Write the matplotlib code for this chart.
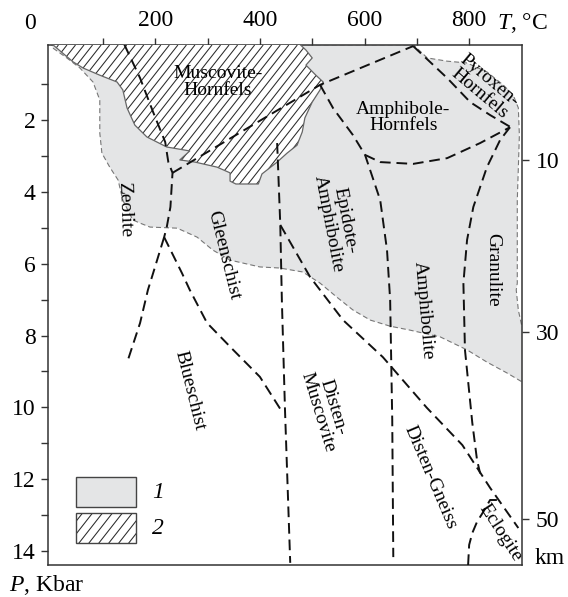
import matplotlib
matplotlib.use("Agg")
import matplotlib.pyplot as plt
import numpy as np
from matplotlib.collections import LineCollection
from matplotlib.patches import Polygon, Rectangle

plt.rcParams["font.family"] = ["Liberation Serif", "DejaVu Serif"]
plt.rcParams["mathtext.fontset"] = "custom"
plt.rcParams["mathtext.it"] = "Liberation Serif:italic"
plt.rcParams["mathtext.rm"] = "Liberation Serif"

# field 1 (grey): outline in T (°C) / P (kbar)
GREY_T = [2, 693, 720, 758, 796, 834, 865, 884, 894, 896, 894, 892, 892, 890, 894, 901, 915,
          915, 901, 872, 834, 796, 745, 687, 649, 611, 578, 547, 515, 482, 438, 400, 343,
          310, 280, 242, 190, 171, 157, 138, 129, 113, 98, 94, 94, 81, 56, 31, 4]
GREY_P = [-0.1, -0.1, 0.27, 0.36, 0.41, 0.66, 1.02, 1.30, 1.66, 2.42, 3.34, 4.23, 6.54, 6.73, 7.29, 7.76, 7.76,
          9.29, 9.29, 9.04, 8.74, 8.40, 8.04, 7.85, 7.74, 7.57, 7.29, 6.93, 6.54, 6.23, 6.12, 6.09, 5.90,
          5.62, 5.26, 5.01, 4.98, 4.87, 4.78, 4.23, 3.67, 3.31, 2.92, 2.36, 1.44, 0.94, 0.55, 0.27, -0.01]

# field 2 (hatched): Muscovite-Hornfels
HATCH_T = [4, 43, 62, 94, 127, 138, 146, 161, 184, 222, 266, 247, 276, 318, 343, 343, 354, 397,
           404, 433, 452, 471, 481, 486, 500, 515, 521, 507, 488, 500, 488, 477]
HATCH_P = [-0.1, 0.38, 0.55, 0.75, 0.94, 1.16, 1.66, 2.14, 2.47, 2.75, 2.86, 3.11, 3.17, 3.31, 3.47, 3.70, 3.78, 3.78,
           3.50, 3.17, 2.92, 2.70, 2.33, 1.94, 1.50, 1.16, 0.94, 0.75, 0.47, 0.27, 0.05, -0.1]

# facies boundaries (dashed)
ZEO_T = [141, 171, 196, 219, 225, 233, 229, 222, 217]
ZEO_P = [-0.1, 0.83, 1.78, 2.61, 3.17, 3.47, 4.42, 4.98, 5.26]
ZEO_LOW_T = [217, 196, 186, 171, 146]
ZEO_LOW_P = [5.26, 6.26, 6.73, 7.65, 8.76]
BLUE_T = [217, 251, 266, 299, 349, 400, 444]
BLUE_P = [5.26, 6.26, 6.73, 7.65, 8.40, 9.15, 10.16]
MUSC_T = [433, 439, 442, 448, 458]
MUSC_P = [2.64, 4.92, 7.01, 10.07, 14.33]
DIAG_T = [439, 496, 559, 635, 719, 787, 840, 894]
DIAG_P = [4.92, 6.37, 7.57, 8.60, 10.01, 11.05, 12.24, 13.36]
ECLO_T = [853, 840, 827, 815, 806, 800, 798]
ECLO_P = [12.58, 12.58, 12.91, 13.19, 13.50, 13.83, 14.39]
EPI_T = [515, 540, 578, 601, 630, 643, 649, 653, 655]
EPI_P = [1.02, 1.67, 2.42, 2.97, 4.23, 5.62, 7.01, 10.35, 14.17]
HORN_T = [233, 515, 693]
HORN_P = [3.47, 1.02, -0.06]
PYR_T = [693, 758, 802, 840, 882]
PYR_P = [-0.06, 0.83, 1.50, 1.86, 2.22]
AMPH_T = [601, 630, 693, 758, 821, 878]
AMPH_P = [2.97, 3.17, 3.22, 3.06, 2.64, 2.20]
GRAN_T = [878, 859, 834, 808, 796, 789, 792, 806, 815, 821]
GRAN_P = [2.20, 2.56, 3.31, 4.42, 5.34, 6.54, 8.40, 10.43, 11.46, 11.84]

BOUNDARIES = [(ZEO_T, ZEO_P), (ZEO_LOW_T, ZEO_LOW_P), (BLUE_T, BLUE_P), (MUSC_T, MUSC_P),
              (DIAG_T, DIAG_P), (ECLO_T, ECLO_P), (EPI_T, EPI_P), (HORN_T, HORN_P),
              (PYR_T, PYR_P), (AMPH_T, AMPH_P), (GRAN_T, GRAN_P)]

FACIES_NAMES = ["Muscovite-\nHornfels", "Amphibole-\nHornfels", "Pyroxen-\nHornfels", "Zeolite",
                "Gleenschist", "Epidote-\nAmphibolite", "Amphibolite", "Granulite", "Blueschist",
                "Disten-\nMuscovite", "Disten-Gneiss", "Eclogite"]
FACIES_T = [320, 674, 829, 142, 331, 547, 712, 846, 266, 525, 725, 859]
FACIES_P = [0.94, 1.92, 1.08, 4.50, 5.76, 4.84, 7.29, 6.18, 9.54, 10.07, 11.94, 13.50]
FACIES_ROT = [0, 0, -40, -88, -76, -79, -85, -90, -76, -73, -67, -57]

T_TICKS = [200, 400, 600, 800]
T_MINOR = [100, 300, 500, 700]
P_TICKS = [2, 4, 6, 8, 10, 12, 14]
P_MINOR = [1, 3, 5, 7, 9, 11, 13]
KM_P = [3.11, 7.90, 13.11]
KM_LABELS = ["10", "30", "50"]

GREY = "#e4e5e6"


def hatch(ax, patch, step=0.018, run=0.86):
    """Steep diagonal hatching (axes fraction coords) clipped to a patch."""
    offs = np.arange(-1.0, 1.2, step)
    segs = [[(c, 0.0), (c + run, 1.0)] for c in offs]
    lc = LineCollection(segs, colors="#2a2a2a", linewidths=0.75, transform=ax.transAxes,
                        zorder=patch.get_zorder() + 0.1)
    ax.add_collection(lc)
    lc.set_clip_path(patch)


fig = plt.figure(figsize=(5.68, 5.97), dpi=100)
ax = fig.add_axes([0.0845, 0.0536, 0.8345, 0.871])
ax.set_xlim(-5, 901)
ax.set_ylim(14.39, -0.09)

ax.add_patch(Polygon(list(zip(GREY_T, GREY_P)), closed=True, facecolor=GREY,
                     edgecolor="none", zorder=1))
ax.plot(GREY_T[:17], GREY_P[:17], color="#777777", lw=0.8, dashes=(4.5, 2.7), zorder=2)
ax.plot(GREY_T[17:] + [GREY_T[0]], GREY_P[17:] + [GREY_P[0]], color="#777777", lw=0.8,
        dashes=(4.5, 2.7), zorder=2)
musc = Polygon(list(zip(HATCH_T, HATCH_P)), closed=True, facecolor="white",
               edgecolor="none", zorder=3)
ax.add_patch(musc)
hatch(ax, musc)
ax.plot(HATCH_T, HATCH_P, color="#666666", lw=0.9, zorder=4)

for t, p in BOUNDARIES:
    ax.plot(t, p, color="#111111", lw=1.4, dashes=(5.5, 3), zorder=5)

for name, t, p, rot in zip(FACIES_NAMES, FACIES_T, FACIES_P, FACIES_ROT):
    ax.text(t, p, name, rotation=rot, ha="center", va="center", fontsize=14,
            linespacing=0.95, rotation_mode="anchor", zorder=6)

# legend
ax.add_patch(Rectangle((0.059, 0.1115), 0.127, 0.0577, transform=ax.transAxes,
                       facecolor=GREY, edgecolor="#444444", lw=1.0, zorder=6))
box2 = Rectangle((0.059, 0.0423), 0.127, 0.0577, transform=ax.transAxes,
                 facecolor="white", edgecolor="none", zorder=6)
ax.add_patch(box2)
hatch(ax, box2, step=0.021)
ax.add_patch(Rectangle((0.059, 0.0423), 0.127, 0.0577, transform=ax.transAxes,
                       facecolor="none", edgecolor="#444444", lw=1.0, zorder=7))
ax.text(0.219, 0.140, "1", transform=ax.transAxes, style="italic", fontsize=17, va="center")
ax.text(0.219, 0.071, "2", transform=ax.transAxes, style="italic", fontsize=17, va="center")

ax.xaxis.tick_top()
ax.set_xticks(T_TICKS)
ax.set_xticks(T_MINOR, minor=True)
ax.set_xticklabels([str(v) for v in T_TICKS])
ax.set_yticks(P_TICKS)
ax.set_yticks(P_MINOR, minor=True)
ax.set_yticklabels([str(v) for v in P_TICKS])
ax.tick_params(which="both", direction="out", length=5, width=1.0, color="#333333",
               labelsize=17, pad=4)
ax.tick_params(axis="x", which="both", pad=5)
for s in ax.spines.values():
    s.set_linewidth(1.1)
    s.set_color("#333333")

ax2 = ax.twinx()
ax2.set_ylim(14.39, -0.09)
ax2.set_yticks(KM_P)
ax2.set_yticklabels(KM_LABELS)
ax2.tick_params(direction="out", length=5, width=1.0, color="#333333", labelsize=17, pad=5)
for s in ax2.spines.values():
    s.set_visible(False)

fig.text(0.053, 0.961, "0", fontsize=17, ha="center", va="center")
fig.text(0.919, 0.961, "$T$, °C", fontsize=17, ha="center", va="center")
fig.text(0.015, 0.02, "$P$, Kbar", fontsize=17, ha="left", va="center")
fig.text(0.968, 0.065, "km", fontsize=17, ha="center", va="center")

fig.savefig("out.png", dpi=100)
